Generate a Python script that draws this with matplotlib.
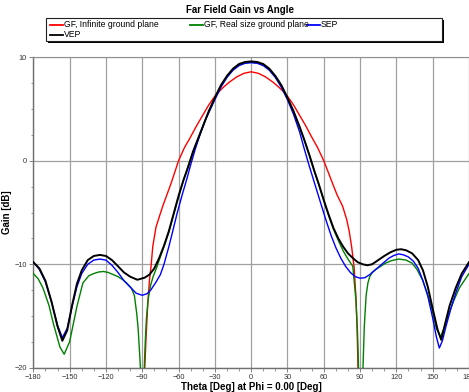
import matplotlib
matplotlib.use('Agg')
from matplotlib import pyplot as plt
from matplotlib.ticker import MultipleLocator
from matplotlib.patches import Rectangle
from matplotlib.lines import Line2D

plt.rcParams['font.family'] = ['Liberation Sans', 'DejaVu Sans']

# GF, Infinite ground plane (red)
theta_inf = [-88.8, -87.9, -86.8, -85.5, -84, -82.7, -81.3, -78.6, -73.1, -66.2,
             -60, -55, -51, -45, -40, -35, -29, -23, -18, -12,
             -6, 0, 6, 12, 18, 23, 29, 35, 40, 45,
             50, 55, 60, 64, 67.3, 71, 75.6, 79, 81, 83,
             85, 86.5, 87.5, 88.3, 89.2]
gain_inf = [-40, -20, -17, -14, -11.5, -10.2, -8.3, -6.4, -4.4, -2.2,
            0, 1.3, 2.1, 3.4, 4.4, 5.4, 6.4, 7.1, 7.6, 8.1,
            8.45, 8.6, 8.45, 8.1, 7.6, 7.1, 6.4, 5.4, 4.4, 3.4,
            2.3, 1.25, 0.0, -1.2, -2.2, -3.3, -4.4, -5.7, -6.8, -8.3,
            -10.2, -13, -16, -20, -40]

# GF, Real size ground plane (green)
theta_real = [-180, -176, -172, -167, -163.5, -158, -154.5, -150, -144, -139,
              -134, -130, -126, -122, -118, -114, -110, -106, -103, -99,
              -96.5, -94.5, -93.4, -92.2, -91.5, -90, -88.3, -87.5, -86.5, -85, -83, -81,
              -78, -76, -72, -68, -64, -60, -56, -52, -48, -44,
              -40, -35, -30, -25, -20, -15, -10, -5, 0, 5,
              10, 15, 20, 25, 30, 35, 40, 44, 48, 52,
              56, 60, 64, 68, 72, 76, 80, 84, 86.6, 87.9,
              88.7, 90.5, 92.4, 93.5, 95, 96.5, 98, 100, 103, 107,
              111, 116, 122, 128, 133, 137, 141.5, 145.5, 149.5, 153,
              156.5, 160, 163.5, 167.5, 172, 176, 180]
gain_real = [-10.9, -11.4, -12.3, -14.0, -15.7, -18.0, -18.7, -17.5, -14.1, -11.8,
             -11.1, -10.9, -10.75, -10.7, -10.8, -11.0, -11.2, -11.5, -11.8, -12.3,
             -13.0, -14.8, -16.2, -18.5, -20.0, -30, -20.0, -17.5, -15.2, -13.3, -12.0, -11.2,
             -10.3, -9.6, -8.3, -6.9, -5.2, -3.5, -1.9, -0.45, 0.85, 2.05,
             3.25, 4.75, 6.05, 7.25, 8.15, 8.85, 9.3, 9.47, 9.52, 9.47,
             9.3, 8.85, 8.15, 7.25, 6.05, 4.75, 3.25, 1.95, 0.55, -0.95,
             -2.35, -3.85, -5.3, -6.6, -7.7, -8.7, -9.5, -10.2, -13.5, -16.7,
             -20.0, -30, -20.0, -16.0, -13.0, -11.8, -11.2, -10.8, -10.5, -10.2,
             -9.9, -9.65, -9.5, -9.6, -9.9, -10.5, -11.5, -12.8, -14.4, -16.2,
             -17.0, -16.0, -14.7, -13.5, -12.3, -11.6, -10.9]

# SEP (blue)
theta_sep = [-180, -175, -170, -165, -160, -156, -152, -148, -144, -140,
             -135, -130, -125, -120, -115, -110, -105, -100, -95, -90,
             -86, -83, -79, -75, -72, -68, -65, -61, -57, -53,
             -50, -46, -42, -38, -30, -25, -20, -15, -10, -5,
             0, 5, 10, 15, 20, 25, 30, 35, 40, 44,
             48, 53, 58, 62, 66, 70, 74, 78, 82, 86,
             90, 94, 98, 102, 106, 110, 114, 118, 122, 126,
             130, 134, 138, 142, 146, 150, 153, 155.5, 158, 161,
             165, 169, 174, 180]
gain_sep = [-9.8, -10.5, -11.7, -13.6, -15.9, -17.1, -16.2, -14.1, -12.2, -10.9,
            -10.0, -9.6, -9.5, -9.6, -10.1, -10.8, -11.6, -12.2, -12.8, -13.0,
            -12.85, -12.5, -11.8, -11.0, -10.0, -8.3, -6.9, -5.0, -3.3, -1.7,
            -0.4, 1.2, 2.6, 3.9, 5.9, 7.1, 8.05, 8.75, 9.2, 9.42,
            9.48, 9.42, 9.2, 8.75, 8.05, 7.1, 5.9, 4.5, 2.8, 1.1,
            -0.5, -2.4, -4.3, -5.8, -7.2, -8.4, -9.4, -10.2, -10.8, -11.2,
            -11.35, -11.3, -11.0, -10.6, -10.2, -9.8, -9.4, -9.15, -9.0, -9.1,
            -9.3, -9.7, -10.4, -11.6, -13.1, -15.2, -17.0, -18.1, -17.4, -16.0,
            -14.3, -12.8, -11.2, -10.0]

# VEP (black)
theta_vep = [-180, -175, -170, -165, -160, -156, -152, -148, -144, -140,
             -135, -130, -125, -120, -115, -110, -105, -100, -94, -88,
             -84, -80, -76, -72, -68, -64, -60, -56, -52, -48,
             -44, -40, -35, -30, -25, -20, -15, -10, -5, 0,
             5, 10, 15, 20, 25, 30, 35, 40, 44, 48,
             52, 56, 60, 64, 68, 72, 76, 80, 84, 88,
             92, 96, 100, 105, 110, 115, 120, 124, 128, 133,
             138, 142, 146, 150, 154, 157, 161, 164, 169, 174,
             180]
gain_vep = [-9.8, -10.4, -11.6, -13.6, -16.0, -17.4, -16.4, -14.0, -11.9, -10.6,
            -9.6, -9.2, -9.1, -9.2, -9.6, -10.2, -10.8, -11.2, -11.5, -11.3,
            -11.0, -10.4, -9.4, -8.2, -6.8, -5.1, -3.4, -1.9, -0.6, 0.9,
            2.1, 3.3, 4.8, 6.1, 7.3, 8.2, 8.9, 9.35, 9.55, 9.6,
            9.55, 9.35, 8.9, 8.2, 7.3, 6.1, 4.8, 3.3, 2.0, 0.6,
            -0.9, -2.3, -3.8, -5.2, -6.5, -7.5, -8.3, -8.95, -9.4, -9.8,
            -10.0, -10.1, -10.0, -9.6, -9.2, -8.85, -8.6, -8.55, -8.65, -8.95,
            -9.6, -10.6, -12.2, -14.3, -16.3, -17.3, -15.4, -14.0, -12.3, -10.9,
            -9.8]

series = [
    ('GF, Infinite ground plane', theta_inf, gain_inf, '#ff0000', 1.0),
    ('GF, Real size ground plane', theta_real, gain_real, '#008000', 1.0),
    ('SEP', theta_sep, gain_sep, '#0000ff', 1.0),
    ('VEP', theta_vep, gain_vep, '#000000', 1.4),
]

W, H = 469, 392
fig = plt.figure(figsize=(W / 100, H / 100), dpi=100)
ax = fig.add_axes([33.3 / W, 1 - 367.7 / H, (W - 33.3) / W, (367.7 - 57.3) / H])

for name, t, g, c, lw in series:
    ax.plot(t, g, color=c, lw=lw, label=name, zorder=3)

ax.set_xlim(-180, 180)
ax.set_ylim(-20, 10)
ax.set_xticks(range(-180, 181, 30))
ax.set_yticks([-20, -10, 0, 10])
ax.xaxis.set_minor_locator(MultipleLocator(10))
ax.yaxis.set_minor_locator(MultipleLocator(2.5))
ax.grid(True, which='major', color='#a0a0a0', lw=0.9)
ax.tick_params(which='major', length=3, width=0.6, color='#707070',
               labelsize=5.3, labelcolor='#333333', pad=1.5)
ax.tick_params(which='minor', length=1.8, width=0.5, color='#707070')
for side in ['left', 'bottom']:
    ax.spines[side].set_color('#707070')
    ax.spines[side].set_linewidth(1.0)
ax.spines['top'].set_color('#909090')
ax.spines['right'].set_visible(False)

ax.set_xlabel('Theta [Deg] at Phi = 0.00 [Deg]', fontsize=7,
              fontweight='bold', labelpad=0.5)
ax.set_ylabel('Gain [dB]', fontsize=7, fontweight='bold', labelpad=2)

fig.text(240 / W, 1 - 10 / H, 'Far Field Gain vs Angle', fontsize=7,
         fontweight='bold', ha='center', va='center')

# legend box drawn by hand to match the layout
x0, x1, ytop, ybot = 46, 442, 18, 41
fig.add_artist(Rectangle(((x0 + 2) / W, 1 - (ybot + 2) / H),
                         (x1 - x0) / W, (ybot - ytop) / H,
                         transform=fig.transFigure, facecolor='black',
                         edgecolor='none'))
fig.add_artist(Rectangle((x0 / W, 1 - ybot / H), (x1 - x0) / W,
                         (ybot - ytop) / H, transform=fig.transFigure,
                         facecolor='white', edgecolor='#202020', lw=0.8))
slots = [(50, 24.5), (190, 24.5), (307, 24.5), (50, 34.5)]
for (name, t, g, c, lw), (lx, ly) in zip(series, slots):
    fig.add_artist(Line2D([lx / W, (lx + 13) / W], [1 - ly / H, 1 - ly / H],
                          transform=fig.transFigure, color=c, lw=1.3))
    fig.text((lx + 14) / W, 1 - ly / H, name, fontsize=6.2,
             ha='left', va='center')

fig.savefig('out.png', dpi=100)
